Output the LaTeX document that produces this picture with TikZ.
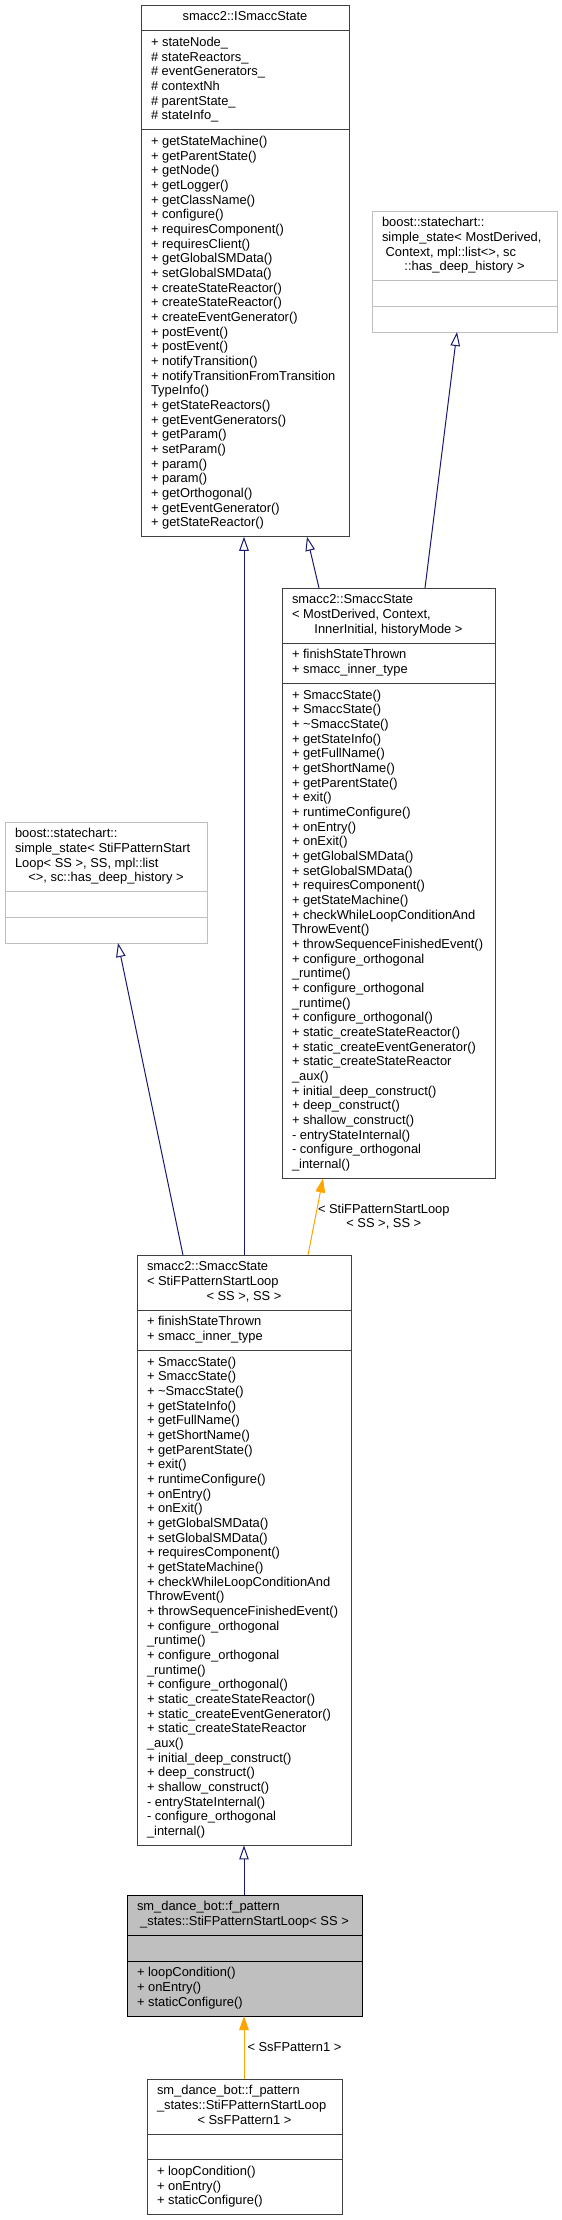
\documentclass[tikz,border=0pt]{standalone}
\usepackage{fontspec}
\setmainfont{Liberation Sans}
\usetikzlibrary{arrows.meta,positioning}
\definecolor{edgeblue}{RGB}{25,25,112}
\definecolor{tmplorange}{RGB}{255,165,0}
\definecolor{boxgray}{RGB}{64,64,64}
\definecolor{extgray}{RGB}{191,191,191}
\definecolor{curgray}{RGB}{191,191,191}
\hyphenpenalty=10000
\exhyphenpenalty=10000
\newcommand{\ctrline}[1]{\hspace*{\fill}#1\hspace*{\fill}}
\newcommand{\smaccAttrs}{+ finishStateThrown\\+ smacc\_inner\_type}
\newcommand{\smaccOps}{+ SmaccState()\\+ SmaccState()\\+ \textasciitilde SmaccState()\\+ getStateInfo()\\+ getFullName()\\+ getShortName()\\+ getParentState()\\+ exit()\\+ runtimeConfigure()\\+ onEntry()\\+ onExit()\\+ getGlobalSMData()\\+ setGlobalSMData()\\+ requiresComponent()\\+ getStateMachine()\\+ checkWhileLoopConditionAnd\\ThrowEvent()\\+ throwSequenceFinishedEvent()\\+ configure\_orthogonal\\\_runtime()\\+ configure\_orthogonal\\\_runtime()\\+ configure\_orthogonal()\\+ static\_createStateReactor()\\+ static\_createEventGenerator()\\+ static\_createStateReactor\\\_aux()\\+ initial\_deep\_construct()\\+ deep\_construct()\\+ shallow\_construct()\\- entryStateInternal()\\- configure\_orthogonal\\\_internal()}
\newcommand{\loopOps}{+ loopCondition()\\+ onEntry()\\+ staticConfigure()}
\tikzset{
  class box/.style={
    rectangle, draw=boxgray, fill=white, line width=1pt, outer sep=0pt,
    inner xsep=10pt, inner ysep=5.5pt, text width=#1, align=flush left,
    font=\fontsize{12.9pt}{14.67pt}\selectfont,
    execute at begin node=\strut, execute at end node=\strut
  },
  ext box/.style={class box=#1, draw=extgray},
  cur box/.style={class box=#1, draw=black, fill=curgray},
  inherit edge/.style={draw=edgeblue, line width=1pt, -{Triangle[open, length=14pt, width=9.5pt]}},
  template edge/.style={draw=tmplorange, line width=1pt, -{Triangle[length=14pt, width=9.5pt]}},
  edge label/.style={font=\fontsize{12.9pt}{14.67pt}\selectfont, align=center, inner sep=2pt}
}

\begin{document}
\begin{tikzpicture}[x=1pt, y=-1pt]
  \useasboundingbox (0,0) rectangle (562,2220);

  \node[class box=188pt, anchor=north west] (ifaceName) at (141,5) {\ctrline{smacc2::ISmaccState}};
  \node[class box=188pt, below=0pt of ifaceName] (ifaceAttr) {+ stateNode\_\\\# stateReactors\_\\\# eventGenerators\_\\\# contextNh\\\# parentState\_\\\# stateInfo\_};
  \node[class box=188pt, below=0pt of ifaceAttr] (ifaceOps) {+ getStateMachine()\\+ getParentState()\\+ getNode()\\+ getLogger()\\+ getClassName()\\+ configure()\\+ requiresComponent()\\+ requiresClient()\\+ getGlobalSMData()\\+ setGlobalSMData()\\+ createStateReactor()\\+ createStateReactor()\\+ createEventGenerator()\\+ postEvent()\\+ postEvent()\\+ notifyTransition()\\+ notifyTransitionFromTransition\\TypeInfo()\\+ getStateReactors()\\+ getEventGenerators()\\+ getParam()\\+ setParam()\\+ param()\\+ param()\\+ getOrthogonal()\\+ getEventGenerator()\\+ getStateReactor()};

  \node[ext box=165pt, anchor=north west] (mdSimpleName) at (372,211) {boost::statechart::\\simple\_state< MostDerived,\\\hspace*{3.6pt}Context, mpl::list<>, sc\\\ctrline{::has\_deep\_history >}};
  \node[ext box=165pt, below=0pt of mdSimpleName] (mdSimpleAttr) {};
  \node[ext box=165pt, below=0pt of mdSimpleAttr] (mdSimpleOps) {};

  \node[class box=193pt, anchor=north west] (smaccGenName) at (282,588) {smacc2::SmaccState\\< MostDerived, Context,\\\ctrline{InnerInitial, historyMode >}};
  \node[class box=193pt, below=0pt of smaccGenName] (smaccGenAttr) {\smaccAttrs};
  \node[class box=193pt, below=0pt of smaccGenAttr] (smaccGenOps) {\smaccOps};

  \node[ext box=182pt, anchor=north west] (loopSimpleName) at (5,822) {boost::statechart::\\simple\_state< StiFPatternStart\\Loop< SS >, SS, mpl::list\\\ctrline{<>, sc::has\_deep\_history >}};
  \node[ext box=182pt, below=0pt of loopSimpleName] (loopSimpleAttr) {};
  \node[ext box=182pt, below=0pt of loopSimpleAttr] (loopSimpleOps) {};

  \node[class box=194pt, anchor=north west] (smaccLoopName) at (137,1255) {smacc2::SmaccState\\< StiFPatternStartLoop\\\ctrline{< SS >, SS >}};
  \node[class box=194pt, below=0pt of smaccLoopName] (smaccLoopAttr) {\smaccAttrs};
  \node[class box=194pt, below=0pt of smaccLoopAttr] (smaccLoopOps) {\smaccOps};

  \node[cur box=215pt, anchor=north west] (startLoopName) at (127,1895) {sm\_dance\_bot::f\_pattern\\\ctrline{\_states::StiFPatternStartLoop< SS >}};
  \node[cur box=215pt, below=0pt of startLoopName] (startLoopAttr) {};
  \node[cur box=215pt, below=0pt of startLoopAttr] (startLoopOps) {\loopOps};

  \node[class box=175pt, anchor=north west] (startLoopPatName) at (147,2079) {sm\_dance\_bot::f\_pattern\\\_states::StiFPatternStartLoop\\\ctrline{< SsFPattern1 >}};
  \node[class box=175pt, below=0pt of startLoopPatName] (startLoopPatAttr) {};
  \node[class box=175pt, below=0pt of startLoopPatAttr] (startLoopPatOps) {\loopOps};

  \draw[inherit edge] ([xshift=37pt]smaccGenName.north west) -- ([xshift=166pt]ifaceOps.south west);
  \draw[inherit edge] ([xshift=143pt]smaccGenName.north west) -- ([xshift=85pt]mdSimpleOps.south west);
  \draw[inherit edge] ([xshift=107pt]smaccLoopName.north west) -- ([xshift=103pt]ifaceOps.south west);
  \draw[inherit edge] ([xshift=46pt]smaccLoopName.north west) -- ([xshift=113pt]loopSimpleOps.south west);
  \draw[template edge] ([xshift=171pt]smaccLoopName.north west) -- node[edge label, pos=0.5, anchor=west] (genArgs) {< StiFPatternStartLoop\\< SS >, SS >} ([xshift=41pt]smaccGenOps.south west);
  \draw[inherit edge] ([xshift=117pt]startLoopName.north west) -- ([xshift=107pt]smaccLoopOps.south west);
  \draw[template edge] ([xshift=97pt]startLoopPatName.north west) -- node[edge label, midway, anchor=west, inner sep=3pt] (patArgs) {< SsFPattern1 >} ([xshift=117pt]startLoopOps.south west);
\end{tikzpicture}
\end{document}
